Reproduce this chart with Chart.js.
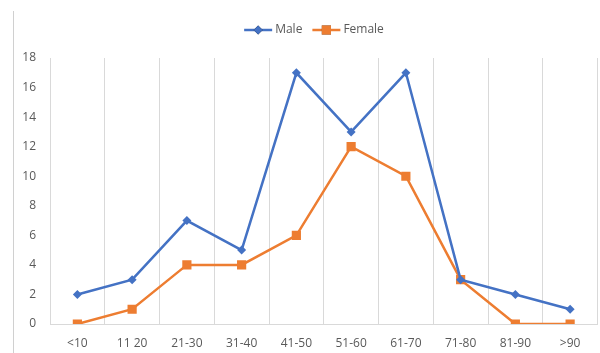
<!DOCTYPE html>
<html>
<head>
<meta charset="utf-8">
<script src="https://cdn.jsdelivr.net/npm/chart.js@4/dist/chart.umd.min.js"></script>
<style>
  html, body { margin: 0; padding: 0; background: #fff; overflow: hidden; }
  #wrap { position: relative; width: 600px; height: 353px; overflow: hidden; }
  #c { display: block; }
</style>
</head>
<body>
<!-- the canvas runs a few px past the frame so the plot reaches the right edge -->
<div id="wrap"><canvas id="c" width="604" height="353"></canvas></div>
<script>
const ageGroups = ['<10', '11 20', '21-30', '31-40', '41-50', '51-60', '61-70', '71-80', '81-90', '>90'];
const maleCounts = [2, 3, 7, 5, 17, 13, 17, 3, 2, 1];
const femaleCounts = [0, 1, 4, 4, 6, 12, 10, 3, 0, 0];
const yTicks = [0, 2, 4, 6, 8, 10, 12, 14, 16, 18];

const BLUE = '#4472C4';
const ORANGE = '#ED7D31';
const GRID = '#d9d9d9';
const TEXT = '#595959';
const FONT = '"Open Sans", "Noto Sans", sans-serif';

// Thin frame edge on the left and a centred legend with line + marker swatches
const decorations = {
  id: 'decorations',
  beforeDraw(chart) {
    const ctx = chart.ctx;
    ctx.save();
    ctx.strokeStyle = '#d0d0d0';
    ctx.lineWidth = 1;
    ctx.beginPath();
    ctx.moveTo(13.5, 11);
    ctx.lineTo(13.5, chart.height);
    ctx.stroke();
    ctx.restore();
  },
  afterDraw(chart) {
    const ctx = chart.ctx;
    ctx.save();
    ctx.font = '12px ' + FONT;
    ctx.textBaseline = 'middle';
    const y = 30;
    const items = chart.data.datasets.map(ds => ({
      text: ds.label, color: ds.borderColor, style: ds.pointStyle, radius: ds.pointRadius
    }));
    const swatch = 28, gap = 3, spacing = 10;
    const widths = items.map(it => swatch + gap + ctx.measureText(it.text).width);
    const total = widths.reduce((a, b) => a + b, 0) + spacing * (items.length - 1);
    let x = 314 - total / 2;
    items.forEach((it, i) => {
      ctx.strokeStyle = it.color;
      ctx.lineWidth = 2.5;
      ctx.beginPath();
      ctx.moveTo(x, y);
      ctx.lineTo(x + swatch, y);
      ctx.stroke();
      Chart.helpers.drawPoint(ctx, {
        pointStyle: it.style, radius: it.radius, rotation: 0, borderWidth: 0
      }, x + swatch / 2, y);
      ctx.fillStyle = it.color;
      ctx.fill();
      ctx.fillStyle = TEXT;
      ctx.textAlign = 'left';
      ctx.fillText(it.text, x + swatch + gap, y);
      x += widths[i] + spacing;
    });
    ctx.restore();
  }
};

new Chart(document.getElementById('c'), {
  type: 'line',
  data: {
    labels: ageGroups,
    datasets: [
      {
        label: 'Male',
        data: maleCounts,
        borderColor: BLUE,
        backgroundColor: BLUE,
        borderWidth: 2.5,
        pointStyle: 'rectRot',
        pointRadius: 4.5,
        pointBorderWidth: 0,
        tension: 0
      },
      {
        label: 'Female',
        data: femaleCounts,
        borderColor: ORANGE,
        backgroundColor: ORANGE,
        borderWidth: 2.5,
        pointStyle: 'rect',
        pointRadius: 6.5,
        pointBorderWidth: 0,
        tension: 0
      }
    ]
  },
  options: {
    responsive: false,
    animation: false,
    devicePixelRatio: 1,
    layout: { padding: { top: 58, right: 1, bottom: 0, left: 0 } },
    plugins: {
      legend: { display: false },
      tooltip: { enabled: false }
    },
    scales: {
      x: {
        offset: true,
        grid: { display: true, offset: true, color: GRID, lineWidth: 1, drawTicks: false },
        border: { display: true, color: GRID, width: 1 },
        ticks: {
          color: TEXT, font: { family: FONT, size: 12 }, padding: 12,
          maxRotation: 0, autoSkip: false
        },
        afterFit(scale) {
          scale.height = 29;
          scale.paddingLeft = 0;
          scale.paddingRight = 0;
        }
      },
      y: {
        min: 0,
        max: 18,
        grid: { display: false, drawTicks: false },
        border: { display: false },
        afterBuildTicks(scale) { scale.ticks = yTicks.map(v => ({ value: v })); },
        ticks: { color: TEXT, font: { family: FONT, size: 12 }, padding: 14 },
        afterFit(scale) { scale.width = 50; }
      }
    }
  },
  plugins: [decorations]
});
</script>
</body>
</html>
